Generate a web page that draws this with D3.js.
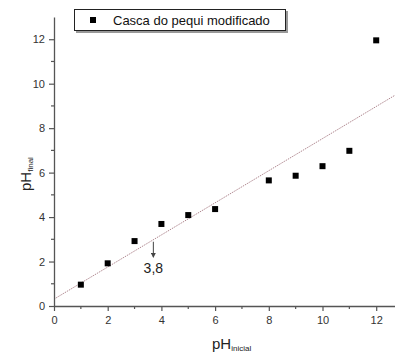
<!DOCTYPE html>
<html>
<head>
<meta charset="utf-8">
<script src="https://cdn.jsdelivr.net/npm/d3@7"></script>
<style>
  body { margin: 0; background: #fff; }
  text { font-family: Arial, "Liberation Sans", sans-serif; }
</style>
</head>
<body>
<div id="chart"></div>
<script>
// pH inicial vs pH final
const phInicial = [1, 2, 3, 4, 5, 6, 8, 9, 10, 11, 12]
const phFinal = [0.96, 1.92, 2.92, 3.69, 4.09, 4.36, 5.65, 5.86, 6.29, 6.98, 11.95]
const xTicks = [0, 2, 4, 6, 8, 10, 12]
const yTicks = [0, 2, 4, 6, 8, 10, 12]
const seriesName = 'Casca do pequi modificado'
const annotX = 3.7
const annotLabel = '3,8'

const width = 395, height = 354
const margin = { top: 17, right: 0, bottom: 48, left: 54 }

const svg = d3.select('#chart').append('svg')
  .attr('width', width)
  .attr('height', height)

const x = d3.scaleLinear().domain([0, 12.7]).range([margin.left, width - margin.right])
const y = d3.scaleLinear().domain([0, 13]).range([height - margin.bottom, margin.top])

// linear fit
const mx = d3.mean(phInicial), my = d3.mean(phFinal)
const slope = d3.sum(phInicial, (v, i) => (v - mx) * (phFinal[i] - my)) / d3.sum(phInicial, v => (v - mx) ** 2)
const intercept = my - slope * mx
const fit = v => intercept + slope * v

svg.append('line')
  .attr('x1', x(0)).attr('y1', y(fit(0)))
  .attr('x2', x(12.7)).attr('y2', y(fit(12.7)))
  .attr('stroke', '#b08890')
  .attr('stroke-width', 1)
  .attr('stroke-dasharray', '1.5,1')

// axes
const axisColor = '#555'
const gx = svg.append('g')
  .attr('transform', `translate(0,${y(0)})`)
  .call(d3.axisBottom(x).tickValues(xTicks).tickSize(5).tickPadding(5).tickSizeOuter(0))
gx.selectAll('text').attr('font-size', 11).attr('fill', '#333').attr('font-family', 'Arial')
gx.select('.domain').attr('stroke', axisColor).attr('stroke-width', 1.3)
gx.selectAll('.tick line').attr('stroke', axisColor).attr('stroke-width', 1.2)
gx.append('g').selectAll('line').data(d3.range(1, 12, 2)).join('line')
  .attr('x1', d => x(d)).attr('x2', d => x(d)).attr('y1', 0).attr('y2', 3)
  .attr('stroke', axisColor).attr('stroke-width', 1.2)

const gy = svg.append('g')
  .attr('transform', `translate(${x(0)},0)`)
  .call(d3.axisLeft(y).tickValues(yTicks).tickSize(5).tickPadding(4).tickSizeOuter(0))
gy.selectAll('text').attr('font-size', 11).attr('fill', '#333').attr('font-family', 'Arial')
gy.select('.domain').attr('stroke', axisColor).attr('stroke-width', 1.3)
gy.selectAll('.tick line').attr('stroke', axisColor).attr('stroke-width', 1.2)
gy.append('g').selectAll('line').data(d3.range(1, 13, 2)).join('line')
  .attr('y1', d => y(d)).attr('y2', d => y(d)).attr('x1', 0).attr('x2', -3)
  .attr('stroke', axisColor).attr('stroke-width', 1.2)

// points
svg.append('g').selectAll('rect')
  .data(phInicial)
  .join('rect')
  .attr('x', d => x(d) - 3)
  .attr('y', (d, i) => y(phFinal[i]) - 3)
  .attr('width', 6)
  .attr('height', 6)
  .attr('fill', '#000')

// annotation arrow
svg.append('defs').append('marker')
  .attr('id', 'arr').attr('viewBox', '0 0 6 6').attr('refX', 5).attr('refY', 3)
  .attr('markerWidth', 5).attr('markerHeight', 5).attr('orient', 'auto')
  .append('path').attr('d', 'M0,0L6,3L0,6Z').attr('fill', '#444')
svg.append('line')
  .attr('x1', x(annotX)).attr('x2', x(annotX))
  .attr('y1', y(fit(annotX)) + 2).attr('y2', y(2.2))
  .attr('stroke', '#444').attr('stroke-width', 1)
  .attr('marker-end', 'url(#arr)')
svg.append('text')
  .attr('x', x(annotX)).attr('y', y(1.5))
  .attr('text-anchor', 'middle')
  .attr('font-size', 14).attr('fill', '#222')
  .text(annotLabel)

// axis titles
const xt = svg.append('text')
  .attr('x', 212).attr('y', 349)
  .attr('font-size', 15).attr('fill', '#222')
xt.append('tspan').text('pH')
xt.append('tspan').attr('font-size', 8).attr('dy', 2).text('inicial')

const yt = svg.append('text')
  .attr('transform', `translate(31,${191}) rotate(-90)`)
  .attr('font-size', 15).attr('fill', '#222')
yt.append('tspan').text('pH')
yt.append('tspan').attr('font-size', 8).attr('dy', 2).text('final')

// legend
const lg = svg.append('g')
lg.append('rect').attr('x', 76).attr('y', 11).attr('width', 212).attr('height', 22).attr('fill', '#999')
lg.append('rect').attr('x', 74.5).attr('y', 9.5).attr('width', 211).attr('height', 21)
  .attr('fill', '#fff').attr('stroke', '#222').attr('stroke-width', 1)
lg.append('rect').attr('x', 90).attr('y', 17).attr('width', 6).attr('height', 6).attr('fill', '#000')
lg.append('text').attr('x', 113).attr('y', 25).attr('font-size', 13).attr('fill', '#111').text(seriesName)
</script>
</body>
</html>
